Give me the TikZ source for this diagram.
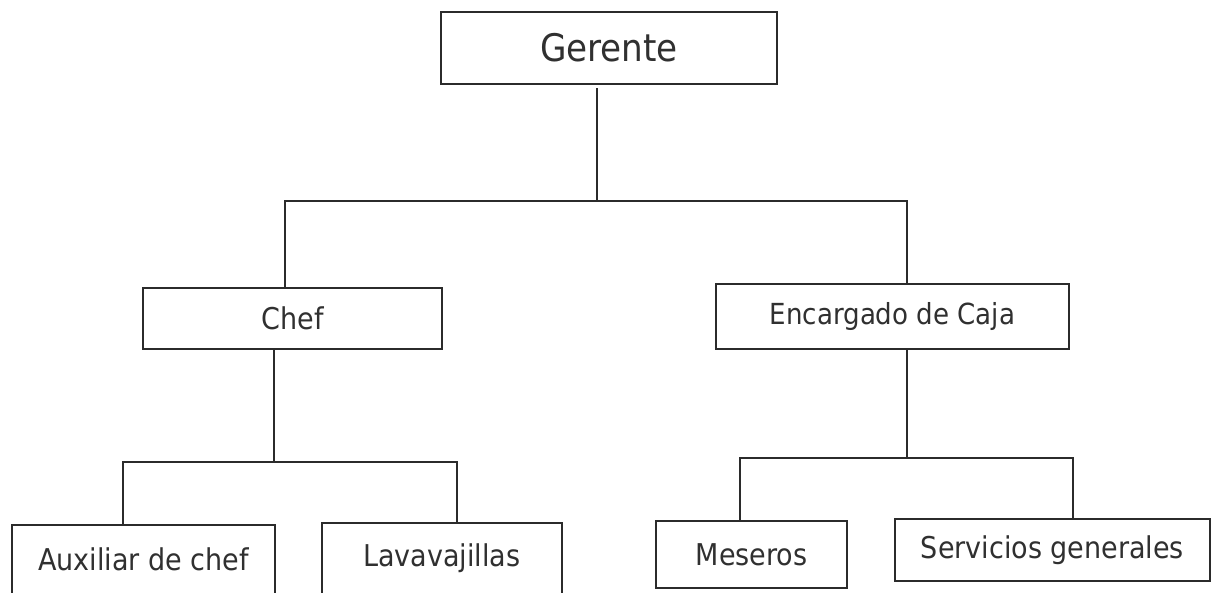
\documentclass[tikz,border=0pt]{standalone}
\usepackage{fontspec}
\setmainfont{DejaVu Sans Condensed}
\definecolor{ink}{HTML}{2B2B2B}
\definecolor{txt}{HTML}{303030}
\begin{document}
\begin{tikzpicture}[x=1pt,y=-1pt,
  box/.style={draw=ink,line width=2.1pt,rectangle,inner sep=0pt,text=txt,
    font=\fontsize{30}{30}\selectfont},
  link/.style={draw=ink,line width=2pt,line cap=rect}]
\useasboundingbox (0,0) rectangle (1212,592);
\clip (0,0) rectangle (1212,592);
\fill[white] (0,0) rectangle (1212,592);
% nodes
\node[box,minimum width=336pt,minimum height=72pt,font=\fontsize{38}{38}\selectfont] (ger) at (609,48) {Gerente};
\node[box,minimum width=299pt,minimum height=61pt] (chef) at (292.5,318.5) {Chef};
\node[box,minimum width=353pt,minimum height=65pt,font=\fontsize{29}{29}\selectfont] (enc) at (892.5,316.5) {Encargado de Caja};
\node[box,minimum width=263pt,minimum height=69pt] (aux) at (143.5,559.5) {Auxiliar de chef};
\node[box,minimum width=240pt,minimum height=71pt] (lav) at (442,558.5) {Lavavajillas};
\node[box,minimum width=191pt,minimum height=67pt] (mes) at (751.5,554.5) {Meseros};
\node[box,minimum width=315pt,minimum height=62pt] (serv) at (1052.5,550) {Servicios generales};
% junction coordinates
\coordinate (g) at (597,201);
\coordinate (cl) at (285,201);
\coordinate (cr) at (907,201);
\coordinate (ch) at (274,462);
\coordinate (al) at (123,462);
\coordinate (ar) at (457,462);
\coordinate (eh) at (907,458);
\coordinate (ml) at (740,458);
\coordinate (mr) at (1073,458);
% connectors
\draw[link,shorten <=4pt] (ger.south -| g) -- (g);
\draw[link] (chef.north -| cl) -- (cl) -- (cr) -- (enc.north -| cr);
\draw[link] (chef.south -| ch) -- (ch);
\draw[link] (aux.north -| al) -- (al) -- (ar) -- (lav.north -| ar);
\draw[link] (enc.south -| eh) -- (eh);
\draw[link] (mes.north -| ml) -- (ml) -- (mr) -- (serv.north -| mr);
\end{tikzpicture}
\end{document}
